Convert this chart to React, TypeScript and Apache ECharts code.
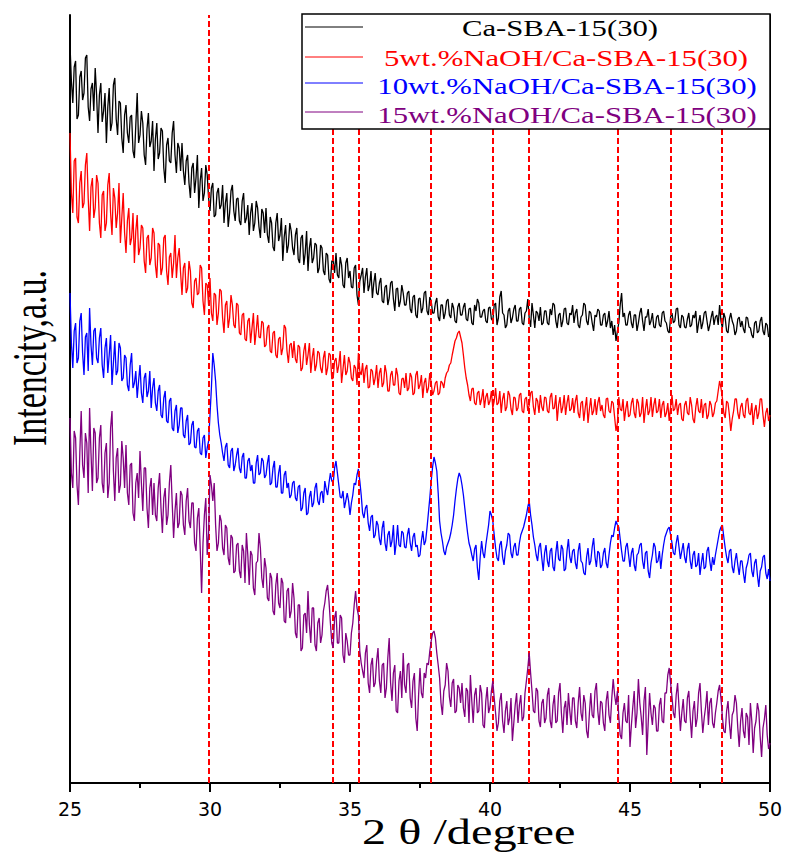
import React, { useEffect, useRef } from "react";
import * as echarts from "echarts";

// 2θ sampling grid (degrees)
const THETA_START = 25;
const THETA_STEP = 0.05;

// Intensities (a.u.), one value every 0.05° from 25.00° to 50.00° (one row = 1°)
const caSBA15: number[] = [
  738,702,680,716,722,664,668,706,712,683,690,725,728,676,662,694,700,672,715,688,
  650,688,700,661,672,690,640,676,695,652,660,698,705,664,648,682,680,645,630,668,
  678,650,640,666,668,632,625,658,690,640,648,672,660,628,618,654,670,636,642,662,
  612,644,660,624,630,655,652,615,600,638,645,622,620,650,662,628,610,640,635,612,
  640,612,598,622,628,600,585,615,620,590,605,628,575,602,615,582,590,618,608,585,
  572,595,600,566,568,590,595,574,578,598,560,580,590,556,570,592,598,572,562,584,
  585,562,558,582,590,560,565,578,548,570,580,552,560,582,575,556,545,574,570,550,
  575,548,540,566,560,536,532,560,570,542,548,565,522,546,558,530,538,560,552,535,
  528,548,555,524,520,545,548,518,530,552,512,535,545,520,525,540,538,510,515,538,
  535,512,508,530,528,504,500,522,522,510,530,508,505,526,518,498,495,520,525,505,
  512,496,495,515,518,488,478,502,508,515,490,506,515,492,498,512,485,500,510,490,
  488,500,505,482,480,496,498,478,485,500,502,484,472,494,495,476,482,498,490,478,
  478,490,492,474,470,486,488,468,465,484,485,470,475,490,492,472,468,486,482,470,
  470,480,485,466,462,478,478,464,470,482,484,468,465,480,475,462,460,476,480,468,
  468,476,480,464,462,474,475,460,458,478,472,484,480,466,466,472,474,462,460,475,
  476,464,462,478,480,458,465,486,492,470,468,455,458,472,475,460,465,474,478,462,
  462,474,476,460,458,470,472,484,465,456,480,468,455,472,470,462,476,458,460,472,
  472,460,458,474,468,480,478,462,455,468,470,456,462,474,475,460,458,470,468,478,
  460,470,474,458,455,466,468,480,478,462,458,472,470,460,452,468,466,474,472,458,
  458,468,470,456,462,472,455,462,448,458,442,452,460,478,490,466,470,458,458,468,
  472,460,455,468,468,452,460,470,475,462,452,466,466,474,458,462,470,456,455,466,
  468,458,456,470,472,462,460,452,450,466,470,460,462,474,475,458,455,468,466,456,
  455,464,470,456,458,468,465,472,450,460,468,454,460,470,472,462,452,458,466,472,
  458,466,468,458,478,462,455,470,465,452,450,464,470,462,458,448,452,464,466,456,
  462,454,450,466,465,456,455,448,445,460,462,450,452,462,466,452,448,460,458,446,
  450,
];

const naoh5: number[] = [
  650,590,570,622,625,566,560,600,612,575,580,618,630,585,552,596,605,565,575,608,
  600,560,545,588,592,552,560,598,610,570,548,595,585,555,570,600,540,565,590,550,
  530,562,575,538,545,570,520,552,568,528,535,558,555,522,510,545,548,518,525,555,
  550,518,505,540,538,508,515,545,548,512,498,526,530,505,520,548,505,525,535,510,
  488,515,520,490,495,522,512,480,475,502,505,488,490,518,515,482,468,500,498,478,
  505,470,462,490,488,458,470,494,492,465,450,478,482,455,465,488,478,458,455,480,
  478,450,448,468,470,444,442,462,465,440,455,470,438,452,468,446,445,462,460,436,
  438,455,458,432,430,450,452,428,425,444,446,428,435,458,455,432,420,438,440,425,
  442,424,420,438,436,412,415,432,440,418,428,440,410,425,435,412,418,432,430,415,
  410,425,432,408,415,430,428,404,405,422,425,410,418,432,400,414,428,408,412,426,
  420,405,402,418,415,398,430,412,408,420,400,414,418,395,396,414,412,398,405,418,
  395,410,415,396,400,418,410,392,392,408,412,398,398,415,408,390,388,404,405,395,
  410,392,395,410,406,388,390,408,412,394,398,408,385,400,405,390,395,410,400,388,
  392,400,402,388,390,402,400,395,405,410,412,418,420,428,435,442,445,450,452,446,
  440,428,415,405,398,388,382,394,395,380,378,390,392,378,384,394,375,386,390,378,
  382,392,375,382,395,378,380,392,370,384,390,372,376,392,388,374,368,386,385,372,
  375,388,390,372,370,384,386,372,378,390,392,376,368,385,382,370,388,376,372,386,
  385,372,370,386,390,374,375,388,362,378,386,370,376,388,368,380,388,372,374,385,
  370,382,388,370,365,380,382,362,375,386,360,374,385,368,372,384,368,380,386,372,
  378,368,365,384,385,372,370,382,380,366,352,360,386,374,372,384,362,374,382,366,
  368,380,385,370,365,384,380,366,370,386,360,374,384,368,372,386,366,378,385,370,
  372,384,365,378,382,366,370,380,362,376,388,372,374,384,368,378,380,364,362,378,
  382,370,368,386,378,364,360,376,385,372,370,384,365,378,380,364,368,382,378,366,
  370,380,382,392,402,395,385,370,365,382,380,368,352,364,372,384,384,370,364,376,
  380,368,365,382,385,370,368,380,358,372,378,364,370,384,384,368,356,370,375,362,
  368,
];

const naoh10: number[] = [
  490,440,415,452,460,420,425,462,470,430,408,446,450,412,475,438,418,452,455,425,
  420,445,455,418,405,435,445,410,428,448,398,420,442,408,412,440,435,402,405,428,
  425,398,392,418,430,395,400,412,385,402,418,390,380,405,410,386,392,412,375,395,
  405,380,372,392,398,368,365,385,392,362,360,382,385,355,352,372,378,350,358,375,
  375,348,345,362,368,338,340,358,362,336,335,352,355,330,328,345,348,325,335,342,
  368,395,430,418,402,378,360,348,340,330,322,336,340,318,315,332,335,312,318,328,
  335,315,310,326,330,305,305,322,325,312,318,300,300,320,328,308,310,325,322,305,
  308,320,328,298,300,315,322,296,296,310,318,290,290,308,312,295,300,285,288,300,
  302,285,282,296,298,272,275,290,295,268,270,286,292,276,280,295,300,282,278,290,
  292,280,302,294,288,300,310,302,300,315,322,310,298,286,285,292,275,282,290,282,
  268,280,288,300,298,308,314,302,288,270,265,275,278,260,252,266,268,245,248,262,
  258,244,238,255,262,240,232,248,252,236,242,258,228,240,258,238,236,252,250,236,
  235,248,255,240,232,246,250,236,238,226,228,242,252,238,242,255,270,285,302,316,
  326,320,312,290,262,250,242,232,228,236,240,244,250,258,268,282,294,304,310,306,
  298,288,275,262,250,240,235,228,222,234,238,215,203,226,242,230,225,238,248,258,
  272,268,262,248,235,225,222,238,242,226,218,232,238,250,248,230,225,236,240,228,
  228,240,248,252,256,262,268,276,282,268,258,246,238,228,222,236,240,225,212,230,
  238,222,216,232,235,216,212,230,242,224,222,238,234,212,214,232,244,226,220,232,
  234,220,214,232,240,222,220,210,208,226,235,218,222,236,245,226,216,232,230,215,
  218,230,235,220,215,228,240,248,246,255,262,258,256,244,232,222,222,236,240,228,
  216,230,235,218,212,228,230,238,240,222,214,230,232,212,205,220,228,240,236,220,
  222,232,214,228,238,246,250,254,256,248,240,230,228,240,248,236,224,232,240,226,
  220,234,240,222,214,228,232,216,218,230,208,220,230,214,216,232,236,222,212,226,
  218,228,236,244,252,256,258,246,235,226,220,232,234,216,210,222,230,218,208,222,
  222,210,200,215,220,228,230,212,206,220,224,208,196,212,216,226,228,210,204,214,
  202,
];

const naoh15: number[] = [
  365,310,295,352,345,298,278,330,372,318,305,350,340,290,375,330,292,355,350,300,
  305,345,358,300,290,330,340,285,300,355,372,312,282,325,335,290,298,342,325,295,
  338,290,278,318,320,270,262,300,310,285,332,300,272,315,315,275,255,295,305,268,
  300,268,262,295,310,275,250,285,295,258,268,300,318,280,245,272,290,255,260,292,
  288,258,248,282,295,262,255,280,280,240,232,265,275,235,190,240,268,285,228,250,
  308,298,282,300,258,232,240,268,262,235,228,258,255,225,218,248,245,210,212,238,
  240,212,205,238,232,200,250,228,198,232,228,195,188,220,222,250,235,205,195,225,
  215,185,182,210,205,172,168,198,210,180,175,205,200,162,160,192,195,165,172,200,
  185,150,145,178,178,132,135,168,170,150,192,158,140,175,175,138,132,160,165,140,
  148,172,180,192,198,182,160,140,135,165,172,140,140,168,165,128,120,150,142,128,
  128,150,160,178,192,175,168,132,120,112,105,130,138,100,90,118,125,96,100,122,
  135,102,90,118,120,85,95,125,145,100,82,110,118,72,70,102,112,85,130,98,
  90,118,120,85,75,102,110,65,52,88,115,90,85,110,105,120,118,132,142,150,
  152,145,130,118,105,80,68,92,98,120,112,86,76,100,104,70,72,98,95,80,
  100,75,66,95,92,60,108,82,60,88,95,70,72,98,90,58,55,82,96,70,
  76,92,102,85,70,52,60,82,90,62,50,72,82,58,65,85,42,60,78,90,
  60,78,88,62,66,90,102,115,130,110,92,72,70,95,92,62,56,80,84,60,
  65,88,95,62,55,78,88,60,62,90,100,70,50,75,82,58,90,72,58,85,
  85,62,55,80,96,70,62,88,80,52,45,70,90,68,65,92,100,72,58,82,
  80,60,52,82,92,68,60,85,104,88,78,92,66,48,44,70,80,62,60,88,
  36,58,76,92,55,70,104,80,66,48,82,96,28,60,90,70,58,78,75,52,
  52,78,85,62,60,90,90,108,115,100,86,70,65,88,100,76,52,70,84,62,
  60,85,92,66,45,72,82,56,65,90,100,72,50,65,76,92,58,80,85,60,
  55,70,80,92,98,84,66,52,50,72,82,60,44,68,72,88,80,55,36,62,
  75,52,45,70,66,38,80,62,30,55,62,80,72,46,26,55,64,78,48,34,
  40,
];

// Reference peak positions (dashed lines), degrees 2θ
const peakLines: number[] = [29.95, 34.4, 35.3, 37.9, 40.1, 41.4, 44.55, 46.45, 48.27];

const seriesNames: string[] = [
  "Ca-SBA-15(30)",
  "5wt.%NaOH/Ca-SBA-15(30)",
  "10wt.%NaOH/Ca-SBA-15(30)",
  "15wt.%NaOH/Ca-SBA-15(30)",
];
const seriesColors: string[] = ["#000000", "#ff0000", "#0000ff", "#800080"];
const seriesData: number[][] = [caSBA15, naoh5, naoh10, naoh15];

const xTicks = { min: 25, max: 50, interval: 5 };

function toPairs(values: number[]): [number, number][] {
  return values.map((v, i) => [+(THETA_START + i * THETA_STEP).toFixed(2), v]);
}

export default function App() {
  const ref = useRef<HTMLDivElement>(null);

  useEffect(() => {
    if (!ref.current) return;
    const chart = echarts.init(ref.current, undefined, { renderer: "svg" });

    const legendTextY = [28, 58, 85.5, 114.5];
    const legendLineY = [27, 57, 83, 112];
    const legendCenterX = [560, 566, 567, 567];

    const graphic: any[] = [
      {
        type: "rect",
        z: 100,
        shape: { x: 302, y: 14, width: 468, height: 115 },
        style: { fill: "#ffffff", stroke: "#000000", lineWidth: 1.5 },
      },
    ];
    seriesNames.forEach((name, i) => {
      graphic.push({
        type: "line",
        z: 101,
        shape: { x1: 305, y1: legendLineY[i], x2: 363, y2: legendLineY[i] },
        style: { stroke: seriesColors[i], lineWidth: 1 },
      });
      graphic.push({
        type: "text",
        z: 101,
        x: legendCenterX[i],
        y: legendTextY[i],
        scaleX: 1.28,
        style: {
          text: name,
          fill: seriesColors[i],
          fontFamily: "Liberation Serif",
          fontSize: 24,
          align: "center",
          verticalAlign: "middle",
          textAlign: "center",
          textVerticalAlign: "middle",
        },
      });
    });
    graphic.push({
      type: "text",
      z: 101,
      x: 29,
      y: 358,
      rotation: Math.PI / 2,
      scaleY: 1.45,
      style: {
        text: "Intencity,a.u.",
        fill: "#000",
        fontFamily: "Liberation Serif",
        fontSize: 34,
        align: "center",
        verticalAlign: "middle",
        textAlign: "center",
        textVerticalAlign: "middle",
      },
    });
    graphic.push({
      type: "text",
      z: 101,
      x: 362,
      y: 832,
      scaleX: 1.38,
      style: {
        text: "2 θ /degree",
        fill: "#000",
        fontFamily: "Liberation Serif",
        fontSize: 35,
        align: "left",
        verticalAlign: "middle",
        textAlign: "left",
        textVerticalAlign: "middle",
      },
    });

    const series: any[] = seriesData.map((d, i) => ({
      name: seriesNames[i],
      type: "line",
      data: toPairs(d),
      showSymbol: false,
      symbol: "none",
      lineStyle: { color: seriesColors[i], width: 1.3 },
      itemStyle: { color: seriesColors[i] },
      z: 2 + i,
    }));
    series.push({
      name: "peaks",
      type: "line",
      data: [],
      z: 10,
      markLine: {
        silent: true,
        symbol: "none",
        label: { show: false },
        lineStyle: { color: "#ff0000", width: 2, type: [6, 3] },
        data: peakLines.map((x) => ({ xAxis: x })),
      },
    });

    chart.setOption({
      animation: false,
      backgroundColor: "#ffffff",
      grid: { left: 70, right: 25, top: 15, bottom: 69, containLabel: false },
      xAxis: {
        type: "value",
        min: xTicks.min,
        max: xTicks.max,
        interval: xTicks.interval,
        axisLine: { show: true, onZero: false, lineStyle: { color: "#000", width: 2 } },
        axisTick: { show: true, inside: false, length: 9, lineStyle: { color: "#000", width: 2 } },
        minorTick: { show: true, splitNumber: 2, length: 5, lineStyle: { color: "#000", width: 2 } },
        splitLine: { show: false },
        minorSplitLine: { show: false },
        axisLabel: {
          color: "#000",
          fontFamily: "DejaVu Sans",
          fontSize: 19,
          margin: 16,
        },
      },
      yAxis: [
        {
          type: "value",
          min: 0,
          max: 768,
          axisLine: { show: true, onZero: false, lineStyle: { color: "#000", width: 2 } },
          axisTick: { show: false },
          axisLabel: { show: false },
          splitLine: { show: false },
        },
        {
          type: "value",
          position: "right",
          min: 0,
          max: 768,
          axisLine: { show: true, onZero: false, lineStyle: { color: "#000", width: 2 } },
          axisTick: { show: false },
          axisLabel: { show: false },
          splitLine: { show: false },
        },
      ],
      series,
      graphic,
    });

    return () => chart.dispose();
  }, []);

  return (
    <div
      ref={ref}
      style={{ position: "fixed", left: 0, top: 0, width: 795, height: 852, background: "#fff" }}
    />
  );
}
